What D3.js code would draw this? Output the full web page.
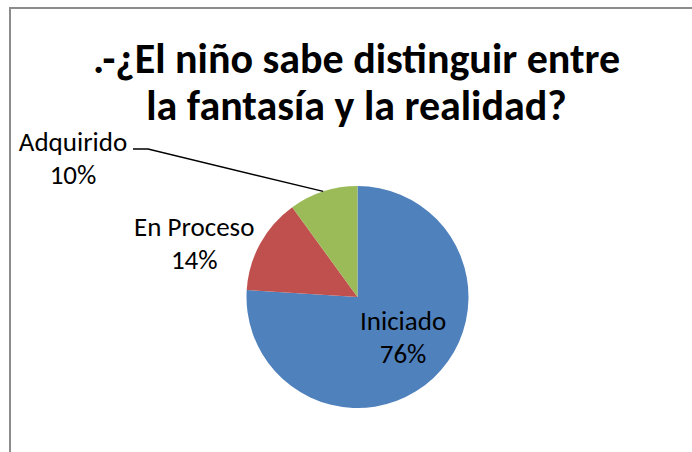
<!DOCTYPE html>
<html>
<head>
<meta charset="utf-8">
<script src="https://cdn.jsdelivr.net/npm/d3@7"></script>
<style>
  body { margin: 0; background: #fff; }
  svg text { font-family: Carlito, Calibri, Lato, sans-serif; fill: #000; }
</style>
</head>
<body>
<div id="chart"></div>
<script>
// data
const categories = ["Iniciado", "En Proceso", "Adquirido"];
const values = [76, 14, 10];
const colors = ["#4F81BD", "#C0504D", "#9BBB59"];
const titleLines = [".-¿El niño sabe distinguir entre", "la fantasía y la realidad?"];

const width = 692;
const height = 452;
const cx = 357.5, cy = 297, radius = 111;

const svg = d3.select("#chart").append("svg")
    .attr("width", width)
    .attr("height", height);

// chart area border (runs off the picture on the right and bottom)
svg.append("rect")
    .attr("x", 10)
    .attr("y", 8)
    .attr("width", 760)
    .attr("height", 520)
    .attr("fill", "#fff")
    .attr("stroke", "#8c8c8c")
    .attr("stroke-width", 2);

// title
svg.append("g")
    .selectAll("text")
    .data(titleLines)
    .enter().append("text")
    .attr("x", 356.5)
    .attr("y", (d, i) => 73 + i * 47)
    .attr("text-anchor", "middle")
    .style("font-size", "42px")
    .style("font-weight", "bold")
    .text(d => d);

const total = d3.sum(values);
const pie = d3.pie().sort(null).value(d => d.value);
const arcs = pie(categories.map((c, i) => ({ name: c, value: values[i], color: colors[i] })));
const arc = d3.arc().innerRadius(0).outerRadius(radius);

const g = svg.append("g").attr("transform", `translate(${cx},${cy})`);

g.selectAll("path")
    .data(arcs)
    .enter().append("path")
    .attr("d", arc)
    .attr("fill", d => d.data.color);

// label placement: inside, outside, or dragged away with a leader line
const pct = d => Math.round(d.value / total * 100) + "%";
const edge = d => {
    const a = (d.startAngle + d.endAngle) / 2;
    return [radius * Math.sin(a), -radius * Math.cos(a)];
};
const lineGap = 33;
const labelSize = 27;

function labelAt(d) {
    const [ex, ey] = edge(d);
    if (d.data.name === "Iniciado") {
        return { x: ex * 0.6, y: ey * 0.6 - 8 };
    }
    if (d.data.name === "En Proceso") {
        return { x: ex - 66, y: ey };
    }
    // Adquirido was dragged up to the top left corner
    return { x: 73 - cx, y: 158 - cy, leader: true };
}

arcs.forEach(d => {
    const p = labelAt(d);
    if (p.leader) {
        const [ex, ey] = edge(d);
        g.append("path")
            .attr("d", `M${ex},${ey}L${148 - cx},${149 - cy}L${133 - cx},${149 - cy}`)
            .attr("fill", "none")
            .attr("stroke", "#000")
            .attr("stroke-width", 1.4);
    }
    const t = g.append("text")
        .attr("text-anchor", "middle")
        .style("font-size", labelSize + "px");
    t.append("tspan")
        .attr("x", p.x)
        .attr("y", p.y - lineGap / 2 + 0.35 * labelSize)
        .text(d.data.name);
    t.append("tspan")
        .attr("x", p.x)
        .attr("y", p.y + lineGap / 2 + 0.35 * labelSize)
        .text(pct(d));
});
</script>
</body>
</html>
